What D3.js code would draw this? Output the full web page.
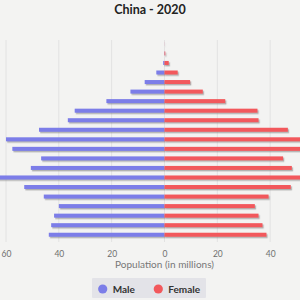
<!DOCTYPE html>
<html>
<head>
<meta charset="utf-8">
<style type="text/css">
html, body{
	padding: 0;
	margin: 0;
	background: #f3f3f2;
}
text{
	font-family: Lato, "Open Sans", sans-serif;
}
</style>
</head>
<body>
<svg width=300 height=300></svg>

<script src="https://cdn.jsdelivr.net/npm/d3@7"></script>
<script type="text/javascript">
	// age groups, bottom (youngest) first
	var ages = ['0-4','5-9','10-14','15-19','20-24','25-29','30-34','35-39','40-44','45-49','50-54',
		'55-59','60-64','65-69','70-74','75-79','80-84','85-89','90-94','95-99','100+'];
	// population in millions
	var male = [43.8, 42.9, 41.8, 40.0, 45.7, 53.1, 64.0, 50.6, 46.7, 57.6, 60.0,
		47.5, 36.6, 34.0, 22.0, 12.9, 7.5, 3.1, 0.5, 0.1, 0.01];
	var female = [38.6, 37.1, 35.6, 34.2, 39.4, 47.8, 61.0, 48.2, 44.9, 57.0, 59.0,
		46.7, 35.6, 35.2, 23.0, 14.5, 9.7, 5.0, 1.6, 0.3, 0.03];
	var ticks = [-60, -40, -20, 0, 20, 40];
	var series = [{name:'Male', color:'#7b7de8'}, {name:'Female', color:'#f2585c'}];

	var svg = d3.select('svg');

	var x = d3.scaleLinear().domain([-60, 60]).range([6, 323]);
	var y = d3.scaleBand().domain(ages.slice().reverse()).range([39.1, 239.5])
		.paddingInner(0.58).paddingOuter(0.29);

	var defs = svg.append('defs');
	defs.append('filter').attr('id','shadow')
		.attr('x','-10%').attr('y','-60%').attr('width','120%').attr('height','260%')
		.append('feDropShadow')
		.attr('dx',1.2).attr('dy',1.4).attr('stdDeviation',0.7)
		.attr('flood-color','#7a7a7a').attr('flood-opacity',0.55);

	// title
	svg.append('text')
		.attr('x',150).attr('y',13.5)
		.attr('text-anchor','middle')
		.style('font-size','12.5px').style('font-weight','bold').style('fill','#222')
		.text('China - 2020');

	// grid
	svg.append('g').selectAll('line')
		.data(ticks)
		.enter()
		.append('line')
		.attr('x1',d=>x(d)).attr('x2',d=>x(d))
		.attr('y1',40).attr('y2',242)
		.style('stroke','#e2e2e2').style('stroke-width',1);

	// bars
	var data = ages.map((a,i)=>({age:a, m:male[i], f:female[i]}));
	var bars = svg.append('g').attr('filter','url(#shadow)');
	bars.selectAll('rect.m')
		.data(data)
		.enter()
		.append('rect')
		.attr('class','m')
		.attr('x',d=>x(-d.m))
		.attr('y',d=>y(d.age))
		.attr('width',d=>x(0)-x(-d.m))
		.attr('height',y.bandwidth())
		.style('fill',series[0].color);
	bars.selectAll('rect.f')
		.data(data)
		.enter()
		.append('rect')
		.attr('class','f')
		.attr('x',x(0))
		.attr('y',d=>y(d.age))
		.attr('width',d=>x(d.f)-x(0))
		.attr('height',y.bandwidth())
		.style('fill',series[1].color);

	// axis
	var axis = svg.append('g').attr('transform','translate(0,243)')
		.call(d3.axisBottom(x).tickValues(ticks).tickFormat(d=>Math.abs(d)).tickSize(0).tickPadding(8));
	axis.select('.domain').remove();
	axis.selectAll('text')
		.style('font-family','Lato, "Open Sans", sans-serif')
		.style('font-size','8.5px').style('fill','#6f6f6f');

	svg.append('text')
		.attr('x',x(0)).attr('y',267.5)
		.attr('text-anchor','middle')
		.style('font-size','10px').style('fill','#777')
		.text('Population (in millions)');

	// legend
	var lg = svg.append('g');
	lg.append('rect')
		.attr('x',92).attr('y',278).attr('width',114).attr('height',20)
		.attr('rx',1)
		.style('fill','#e3e3e8');
	var lx = [102.7, 158.3];
	var items = lg.selectAll('g.item')
		.data(series)
		.enter()
		.append('g')
		.attr('transform',(d,i)=>'translate('+lx[i]+',289)');
	items.append('circle')
		.attr('r',4.6)
		.style('fill',d=>d.color);
	items.append('text')
		.attr('x',10).attr('y',4)
		.style('font-size','10px').style('font-weight','bold').style('fill','#333')
		.text(d=>d.name);
</script>
</body>
</html>
